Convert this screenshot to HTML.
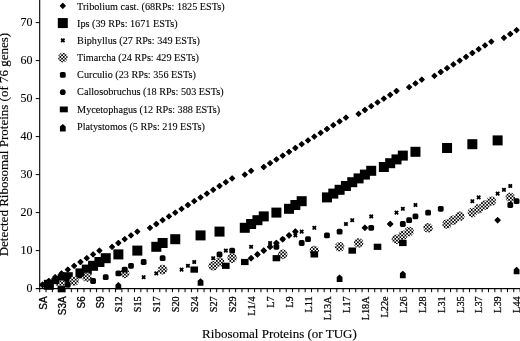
<!DOCTYPE html>
<html><head><meta charset="utf-8"><title>Ribosomal Proteins chart</title>
<style>
html,body{margin:0;padding:0;background:#fff;}
body{width:520px;height:341px;overflow:hidden;}
svg{display:block;}
text{font-family:"Liberation Serif","Times New Roman",serif;fill:#000;stroke:#000;stroke-width:0.1px;}
.tk{font-size:12px;}
.lg{font-size:10.2px;}
.xl{font-size:10.3px;stroke-width:0.25px;}
.xs{font-size:10px;stroke-width:0.3px;font-family:"Liberation Sans",Arial,sans-serif;}
.ti{font-size:13px;stroke-width:0.15px;}
</style></head>
<body>
<svg width="520" height="341" viewBox="0 0 520 341">
<defs>
<pattern id="chk" x="0" y="0" width="3.4" height="3.4" patternUnits="userSpaceOnUse">
<rect x="0" y="0" width="1.7" height="1.7" fill="#000"/><rect x="1.7" y="1.7" width="1.7" height="1.7" fill="#000"/>
</pattern>
</defs>
<rect width="520" height="341" fill="#fff"/>
<g fill="#000">
<rect x="39.15" y="0" width="1.1" height="289.2"/><rect x="39.15" y="288" width="480.85" height="1.2"/><rect x="35.7" y="250.1" width="4" height="1"/><rect x="35.7" y="212.1" width="4" height="1"/><rect x="35.7" y="174.1" width="4" height="1"/><rect x="35.7" y="136.1" width="4" height="1"/><rect x="35.7" y="98.1" width="4" height="1"/><rect x="35.7" y="60.1" width="4" height="1"/><rect x="35.7" y="22.1" width="4" height="1"/><rect x="35.7" y="288" width="4" height="1.2"/><rect x="39.2" y="288.6" width="1" height="3.6"/><rect x="45.52" y="288.6" width="1" height="3.6"/><rect x="51.84" y="288.6" width="1" height="3.6"/><rect x="58.16" y="288.6" width="1" height="3.6"/><rect x="64.48" y="288.6" width="1" height="3.6"/><rect x="70.81" y="288.6" width="1" height="3.6"/><rect x="77.13" y="288.6" width="1" height="3.6"/><rect x="83.45" y="288.6" width="1" height="3.6"/><rect x="89.77" y="288.6" width="1" height="3.6"/><rect x="96.09" y="288.6" width="1" height="3.6"/><rect x="102.41" y="288.6" width="1" height="3.6"/><rect x="108.73" y="288.6" width="1" height="3.6"/><rect x="115.05" y="288.6" width="1" height="3.6"/><rect x="121.37" y="288.6" width="1" height="3.6"/><rect x="127.69" y="288.6" width="1" height="3.6"/><rect x="134.01" y="288.6" width="1" height="3.6"/><rect x="140.34" y="288.6" width="1" height="3.6"/><rect x="146.66" y="288.6" width="1" height="3.6"/><rect x="152.98" y="288.6" width="1" height="3.6"/><rect x="159.3" y="288.6" width="1" height="3.6"/><rect x="165.62" y="288.6" width="1" height="3.6"/><rect x="171.94" y="288.6" width="1" height="3.6"/><rect x="178.26" y="288.6" width="1" height="3.6"/><rect x="184.58" y="288.6" width="1" height="3.6"/><rect x="190.9" y="288.6" width="1" height="3.6"/><rect x="197.23" y="288.6" width="1" height="3.6"/><rect x="203.55" y="288.6" width="1" height="3.6"/><rect x="209.87" y="288.6" width="1" height="3.6"/><rect x="216.19" y="288.6" width="1" height="3.6"/><rect x="222.51" y="288.6" width="1" height="3.6"/><rect x="228.83" y="288.6" width="1" height="3.6"/><rect x="235.15" y="288.6" width="1" height="3.6"/><rect x="241.47" y="288.6" width="1" height="3.6"/><rect x="247.79" y="288.6" width="1" height="3.6"/><rect x="254.11" y="288.6" width="1" height="3.6"/><rect x="260.44" y="288.6" width="1" height="3.6"/><rect x="266.76" y="288.6" width="1" height="3.6"/><rect x="273.08" y="288.6" width="1" height="3.6"/><rect x="279.4" y="288.6" width="1" height="3.6"/><rect x="285.72" y="288.6" width="1" height="3.6"/><rect x="292.04" y="288.6" width="1" height="3.6"/><rect x="298.36" y="288.6" width="1" height="3.6"/><rect x="304.68" y="288.6" width="1" height="3.6"/><rect x="311" y="288.6" width="1" height="3.6"/><rect x="317.32" y="288.6" width="1" height="3.6"/><rect x="323.64" y="288.6" width="1" height="3.6"/><rect x="329.97" y="288.6" width="1" height="3.6"/><rect x="336.29" y="288.6" width="1" height="3.6"/><rect x="342.61" y="288.6" width="1" height="3.6"/><rect x="348.93" y="288.6" width="1" height="3.6"/><rect x="355.25" y="288.6" width="1" height="3.6"/><rect x="361.57" y="288.6" width="1" height="3.6"/><rect x="367.89" y="288.6" width="1" height="3.6"/><rect x="374.21" y="288.6" width="1" height="3.6"/><rect x="380.53" y="288.6" width="1" height="3.6"/><rect x="386.85" y="288.6" width="1" height="3.6"/><rect x="393.18" y="288.6" width="1" height="3.6"/><rect x="399.5" y="288.6" width="1" height="3.6"/><rect x="405.82" y="288.6" width="1" height="3.6"/><rect x="412.14" y="288.6" width="1" height="3.6"/><rect x="418.46" y="288.6" width="1" height="3.6"/><rect x="424.78" y="288.6" width="1" height="3.6"/><rect x="431.1" y="288.6" width="1" height="3.6"/><rect x="437.42" y="288.6" width="1" height="3.6"/><rect x="443.74" y="288.6" width="1" height="3.6"/><rect x="450.06" y="288.6" width="1" height="3.6"/><rect x="456.39" y="288.6" width="1" height="3.6"/><rect x="462.71" y="288.6" width="1" height="3.6"/><rect x="469.03" y="288.6" width="1" height="3.6"/><rect x="475.35" y="288.6" width="1" height="3.6"/><rect x="481.67" y="288.6" width="1" height="3.6"/><rect x="487.99" y="288.6" width="1" height="3.6"/><rect x="494.31" y="288.6" width="1" height="3.6"/><rect x="500.63" y="288.6" width="1" height="3.6"/><rect x="506.95" y="288.6" width="1" height="3.6"/><rect x="513.27" y="288.6" width="1" height="3.6"/><rect x="519.6" y="288.6" width="1" height="3.6"/>
</g>
<g fill="#000">
<g id="s-trib"><path d="M42.52 282.3L45.02 284.8L42.52 287.3L40.02 284.8Z" stroke="#000" stroke-width="1.1" stroke-linejoin="round"/><path d="M48.84 278.5L51.34 281L48.84 283.5L46.34 281Z" stroke="#000" stroke-width="1.1" stroke-linejoin="round"/><path d="M55.16 274.7L57.66 277.2L55.16 279.7L52.66 277.2Z" stroke="#000" stroke-width="1.1" stroke-linejoin="round"/><path d="M61.48 270.9L63.98 273.4L61.48 275.9L58.98 273.4Z" stroke="#000" stroke-width="1.1" stroke-linejoin="round"/><path d="M67.81 267.1L70.31 269.6L67.81 272.1L65.31 269.6Z" stroke="#000" stroke-width="1.1" stroke-linejoin="round"/><path d="M74.13 263.3L76.63 265.8L74.13 268.3L71.63 265.8Z" stroke="#000" stroke-width="1.1" stroke-linejoin="round"/><path d="M80.45 259.5L82.95 262L80.45 264.5L77.95 262Z" stroke="#000" stroke-width="1.1" stroke-linejoin="round"/><path d="M86.77 255.7L89.27 258.2L86.77 260.7L84.27 258.2Z" stroke="#000" stroke-width="1.1" stroke-linejoin="round"/><path d="M93.09 251.9L95.59 254.4L93.09 256.9L90.59 254.4Z" stroke="#000" stroke-width="1.1" stroke-linejoin="round"/><path d="M99.41 248.1L101.91 250.6L99.41 253.1L96.91 250.6Z" stroke="#000" stroke-width="1.1" stroke-linejoin="round"/><path d="M112.05 244.3L114.55 246.8L112.05 249.3L109.55 246.8Z" stroke="#000" stroke-width="1.1" stroke-linejoin="round"/><path d="M118.37 240.5L120.87 243L118.37 245.5L115.87 243Z" stroke="#000" stroke-width="1.1" stroke-linejoin="round"/><path d="M124.69 236.7L127.19 239.2L124.69 241.7L122.19 239.2Z" stroke="#000" stroke-width="1.1" stroke-linejoin="round"/><path d="M131.01 232.9L133.51 235.4L131.01 237.9L128.51 235.4Z" stroke="#000" stroke-width="1.1" stroke-linejoin="round"/><path d="M137.34 229.1L139.84 231.6L137.34 234.1L134.84 231.6Z" stroke="#000" stroke-width="1.1" stroke-linejoin="round"/><path d="M149.98 225.3L152.48 227.8L149.98 230.3L147.48 227.8Z" stroke="#000" stroke-width="1.1" stroke-linejoin="round"/><path d="M156.3 221.5L158.8 224L156.3 226.5L153.8 224Z" stroke="#000" stroke-width="1.1" stroke-linejoin="round"/><path d="M162.62 217.7L165.12 220.2L162.62 222.7L160.12 220.2Z" stroke="#000" stroke-width="1.1" stroke-linejoin="round"/><path d="M168.94 213.9L171.44 216.4L168.94 218.9L166.44 216.4Z" stroke="#000" stroke-width="1.1" stroke-linejoin="round"/><path d="M175.26 210.1L177.76 212.6L175.26 215.1L172.76 212.6Z" stroke="#000" stroke-width="1.1" stroke-linejoin="round"/><path d="M181.58 206.3L184.08 208.8L181.58 211.3L179.08 208.8Z" stroke="#000" stroke-width="1.1" stroke-linejoin="round"/><path d="M187.9 202.5L190.4 205L187.9 207.5L185.4 205Z" stroke="#000" stroke-width="1.1" stroke-linejoin="round"/><path d="M194.23 198.7L196.73 201.2L194.23 203.7L191.73 201.2Z" stroke="#000" stroke-width="1.1" stroke-linejoin="round"/><path d="M200.55 194.9L203.05 197.4L200.55 199.9L198.05 197.4Z" stroke="#000" stroke-width="1.1" stroke-linejoin="round"/><path d="M206.87 191.1L209.37 193.6L206.87 196.1L204.37 193.6Z" stroke="#000" stroke-width="1.1" stroke-linejoin="round"/><path d="M213.19 187.3L215.69 189.8L213.19 192.3L210.69 189.8Z" stroke="#000" stroke-width="1.1" stroke-linejoin="round"/><path d="M219.51 183.5L222.01 186L219.51 188.5L217.01 186Z" stroke="#000" stroke-width="1.1" stroke-linejoin="round"/><path d="M225.83 179.7L228.33 182.2L225.83 184.7L223.33 182.2Z" stroke="#000" stroke-width="1.1" stroke-linejoin="round"/><path d="M232.15 175.9L234.65 178.4L232.15 180.9L229.65 178.4Z" stroke="#000" stroke-width="1.1" stroke-linejoin="round"/><path d="M244.79 172.1L247.29 174.6L244.79 177.1L242.29 174.6Z" stroke="#000" stroke-width="1.1" stroke-linejoin="round"/><path d="M251.11 168.3L253.61 170.8L251.11 173.3L248.61 170.8Z" stroke="#000" stroke-width="1.1" stroke-linejoin="round"/><path d="M263.76 164.5L266.26 167L263.76 169.5L261.26 167Z" stroke="#000" stroke-width="1.1" stroke-linejoin="round"/><path d="M270.08 160.7L272.58 163.2L270.08 165.7L267.58 163.2Z" stroke="#000" stroke-width="1.1" stroke-linejoin="round"/><path d="M276.4 156.9L278.9 159.4L276.4 161.9L273.9 159.4Z" stroke="#000" stroke-width="1.1" stroke-linejoin="round"/><path d="M282.72 153.1L285.22 155.6L282.72 158.1L280.22 155.6Z" stroke="#000" stroke-width="1.1" stroke-linejoin="round"/><path d="M289.04 149.3L291.54 151.8L289.04 154.3L286.54 151.8Z" stroke="#000" stroke-width="1.1" stroke-linejoin="round"/><path d="M295.36 145.5L297.86 148L295.36 150.5L292.86 148Z" stroke="#000" stroke-width="1.1" stroke-linejoin="round"/><path d="M301.68 141.7L304.18 144.2L301.68 146.7L299.18 144.2Z" stroke="#000" stroke-width="1.1" stroke-linejoin="round"/><path d="M308 137.9L310.5 140.4L308 142.9L305.5 140.4Z" stroke="#000" stroke-width="1.1" stroke-linejoin="round"/><path d="M314.32 134.1L316.82 136.6L314.32 139.1L311.82 136.6Z" stroke="#000" stroke-width="1.1" stroke-linejoin="round"/><path d="M320.64 130.3L323.14 132.8L320.64 135.3L318.14 132.8Z" stroke="#000" stroke-width="1.1" stroke-linejoin="round"/><path d="M326.97 126.5L329.47 129L326.97 131.5L324.47 129Z" stroke="#000" stroke-width="1.1" stroke-linejoin="round"/><path d="M333.29 122.7L335.79 125.2L333.29 127.7L330.79 125.2Z" stroke="#000" stroke-width="1.1" stroke-linejoin="round"/><path d="M339.61 118.9L342.11 121.4L339.61 123.9L337.11 121.4Z" stroke="#000" stroke-width="1.1" stroke-linejoin="round"/><path d="M345.93 115.1L348.43 117.6L345.93 120.1L343.43 117.6Z" stroke="#000" stroke-width="1.1" stroke-linejoin="round"/><path d="M358.57 111.3L361.07 113.8L358.57 116.3L356.07 113.8Z" stroke="#000" stroke-width="1.1" stroke-linejoin="round"/><path d="M364.89 107.5L367.39 110L364.89 112.5L362.39 110Z" stroke="#000" stroke-width="1.1" stroke-linejoin="round"/><path d="M371.21 103.7L373.71 106.2L371.21 108.7L368.71 106.2Z" stroke="#000" stroke-width="1.1" stroke-linejoin="round"/><path d="M377.53 99.9L380.03 102.4L377.53 104.9L375.03 102.4Z" stroke="#000" stroke-width="1.1" stroke-linejoin="round"/><path d="M383.85 96.1L386.35 98.6L383.85 101.1L381.35 98.6Z" stroke="#000" stroke-width="1.1" stroke-linejoin="round"/><path d="M390.18 92.3L392.68 94.8L390.18 97.3L387.68 94.8Z" stroke="#000" stroke-width="1.1" stroke-linejoin="round"/><path d="M396.5 88.5L399 91L396.5 93.5L394 91Z" stroke="#000" stroke-width="1.1" stroke-linejoin="round"/><path d="M409.14 84.7L411.64 87.2L409.14 89.7L406.64 87.2Z" stroke="#000" stroke-width="1.1" stroke-linejoin="round"/><path d="M415.46 80.9L417.96 83.4L415.46 85.9L412.96 83.4Z" stroke="#000" stroke-width="1.1" stroke-linejoin="round"/><path d="M421.78 77.1L424.28 79.6L421.78 82.1L419.28 79.6Z" stroke="#000" stroke-width="1.1" stroke-linejoin="round"/><path d="M434.42 73.3L436.92 75.8L434.42 78.3L431.92 75.8Z" stroke="#000" stroke-width="1.1" stroke-linejoin="round"/><path d="M440.74 69.5L443.24 72L440.74 74.5L438.24 72Z" stroke="#000" stroke-width="1.1" stroke-linejoin="round"/><path d="M447.06 65.7L449.56 68.2L447.06 70.7L444.56 68.2Z" stroke="#000" stroke-width="1.1" stroke-linejoin="round"/><path d="M453.39 61.9L455.89 64.4L453.39 66.9L450.89 64.4Z" stroke="#000" stroke-width="1.1" stroke-linejoin="round"/><path d="M459.71 58.1L462.21 60.6L459.71 63.1L457.21 60.6Z" stroke="#000" stroke-width="1.1" stroke-linejoin="round"/><path d="M466.03 54.3L468.53 56.8L466.03 59.3L463.53 56.8Z" stroke="#000" stroke-width="1.1" stroke-linejoin="round"/><path d="M472.35 50.5L474.85 53L472.35 55.5L469.85 53Z" stroke="#000" stroke-width="1.1" stroke-linejoin="round"/><path d="M478.67 46.7L481.17 49.2L478.67 51.7L476.17 49.2Z" stroke="#000" stroke-width="1.1" stroke-linejoin="round"/><path d="M484.99 42.9L487.49 45.4L484.99 47.9L482.49 45.4Z" stroke="#000" stroke-width="1.1" stroke-linejoin="round"/><path d="M491.31 39.1L493.81 41.6L491.31 44.1L488.81 41.6Z" stroke="#000" stroke-width="1.1" stroke-linejoin="round"/><path d="M503.95 35.3L506.45 37.8L503.95 40.3L501.45 37.8Z" stroke="#000" stroke-width="1.1" stroke-linejoin="round"/><path d="M510.27 31.5L512.77 34L510.27 36.5L507.77 34Z" stroke="#000" stroke-width="1.1" stroke-linejoin="round"/><path d="M516.6 27.7L519.1 30.2L516.6 32.7L514.1 30.2Z" stroke="#000" stroke-width="1.1" stroke-linejoin="round"/></g>
<g id="s-ips"><rect x="43.84" y="279.8" width="10" height="10"/><rect x="56.48" y="276" width="10" height="10"/><rect x="62.81" y="272.2" width="10" height="10"/><rect x="75.45" y="268.4" width="10" height="10"/><rect x="81.77" y="264.6" width="10" height="10"/><rect x="88.09" y="260.8" width="10" height="10"/><rect x="94.41" y="257" width="10" height="10"/><rect x="100.73" y="253.2" width="10" height="10"/><rect x="113.37" y="249.4" width="10" height="10"/><rect x="132.34" y="245.6" width="10" height="10"/><rect x="151.3" y="241.8" width="10" height="10"/><rect x="157.62" y="238" width="10" height="10"/><rect x="170.26" y="234.2" width="10" height="10"/><rect x="195.55" y="230.4" width="10" height="10"/><rect x="214.51" y="226.6" width="10" height="10"/><rect x="239.79" y="222.8" width="10" height="10"/><rect x="246.11" y="219" width="10" height="10"/><rect x="252.44" y="215.2" width="10" height="10"/><rect x="258.76" y="211.4" width="10" height="10"/><rect x="271.4" y="207.6" width="10" height="10"/><rect x="284.04" y="203.8" width="10" height="10"/><rect x="290.36" y="200" width="10" height="10"/><rect x="296.68" y="196.2" width="10" height="10"/><rect x="321.97" y="192.4" width="10" height="10"/><rect x="328.29" y="188.6" width="10" height="10"/><rect x="334.61" y="184.8" width="10" height="10"/><rect x="340.93" y="181" width="10" height="10"/><rect x="347.25" y="177.2" width="10" height="10"/><rect x="353.57" y="173.4" width="10" height="10"/><rect x="359.89" y="169.6" width="10" height="10"/><rect x="366.21" y="165.8" width="10" height="10"/><rect x="378.85" y="162" width="10" height="10"/><rect x="385.18" y="158.2" width="10" height="10"/><rect x="391.5" y="154.4" width="10" height="10"/><rect x="397.82" y="150.6" width="10" height="10"/><rect x="410.46" y="146.8" width="10" height="10"/><rect x="442.06" y="143" width="10" height="10"/><rect x="467.35" y="139.2" width="10" height="10"/><rect x="492.63" y="135.4" width="10" height="10"/></g>
<g id="s-biph"><path d="M59.78 283.1L63.18 286.5M59.78 286.5L63.18 283.1" stroke="#000" stroke-width="1.7" fill="none"/><rect x="60.08" y="283.4" width="2.8" height="2.8"/><path d="M66.11 279.3L69.51 282.7M66.11 282.7L69.51 279.3" stroke="#000" stroke-width="1.7" fill="none"/><rect x="66.41" y="279.6" width="2.8" height="2.8"/><path d="M141.96 275.5L145.36 278.9M141.96 278.9L145.36 275.5" stroke="#000" stroke-width="1.7" fill="none"/><rect x="142.26" y="275.8" width="2.8" height="2.8"/><path d="M154.6 271.7L158 275.1M154.6 275.1L158 271.7" stroke="#000" stroke-width="1.7" fill="none"/><rect x="154.9" y="272" width="2.8" height="2.8"/><path d="M179.88 267.9L183.28 271.3M179.88 271.3L183.28 267.9" stroke="#000" stroke-width="1.7" fill="none"/><rect x="180.18" y="268.2" width="2.8" height="2.8"/><path d="M186.2 264.1L189.6 267.5M186.2 267.5L189.6 264.1" stroke="#000" stroke-width="1.7" fill="none"/><rect x="186.5" y="264.4" width="2.8" height="2.8"/><path d="M192.53 260.3L195.93 263.7M192.53 263.7L195.93 260.3" stroke="#000" stroke-width="1.7" fill="none"/><rect x="192.83" y="260.6" width="2.8" height="2.8"/><path d="M211.49 256.5L214.89 259.9M211.49 259.9L214.89 256.5" stroke="#000" stroke-width="1.7" fill="none"/><rect x="211.79" y="256.8" width="2.8" height="2.8"/><path d="M217.81 252.7L221.21 256.1M217.81 256.1L221.21 252.7" stroke="#000" stroke-width="1.7" fill="none"/><rect x="218.11" y="253" width="2.8" height="2.8"/><path d="M224.13 248.9L227.53 252.3M224.13 252.3L227.53 248.9" stroke="#000" stroke-width="1.7" fill="none"/><rect x="224.43" y="249.2" width="2.8" height="2.8"/><path d="M249.41 245.1L252.81 248.5M249.41 248.5L252.81 245.1" stroke="#000" stroke-width="1.7" fill="none"/><rect x="249.71" y="245.4" width="2.8" height="2.8"/><path d="M268.38 241.3L271.78 244.7M268.38 244.7L271.78 241.3" stroke="#000" stroke-width="1.7" fill="none"/><rect x="268.68" y="241.6" width="2.8" height="2.8"/><path d="M281.02 237.5L284.42 240.9M281.02 240.9L284.42 237.5" stroke="#000" stroke-width="1.7" fill="none"/><rect x="281.32" y="237.8" width="2.8" height="2.8"/><path d="M293.66 233.7L297.06 237.1M293.66 237.1L297.06 233.7" stroke="#000" stroke-width="1.7" fill="none"/><rect x="293.96" y="234" width="2.8" height="2.8"/><path d="M299.98 229.9L303.38 233.3M299.98 233.3L303.38 229.9" stroke="#000" stroke-width="1.7" fill="none"/><rect x="300.28" y="230.2" width="2.8" height="2.8"/><path d="M312.62 226.1L316.02 229.5M312.62 229.5L316.02 226.1" stroke="#000" stroke-width="1.7" fill="none"/><rect x="312.92" y="226.4" width="2.8" height="2.8"/><path d="M344.23 222.3L347.63 225.7M344.23 225.7L347.63 222.3" stroke="#000" stroke-width="1.7" fill="none"/><rect x="344.53" y="222.6" width="2.8" height="2.8"/><path d="M350.55 218.5L353.95 221.9M350.55 221.9L353.95 218.5" stroke="#000" stroke-width="1.7" fill="none"/><rect x="350.85" y="218.8" width="2.8" height="2.8"/><path d="M369.51 214.7L372.91 218.1M369.51 218.1L372.91 214.7" stroke="#000" stroke-width="1.7" fill="none"/><rect x="369.81" y="215" width="2.8" height="2.8"/><path d="M394.8 210.9L398.2 214.3M394.8 214.3L398.2 210.9" stroke="#000" stroke-width="1.7" fill="none"/><rect x="395.1" y="211.2" width="2.8" height="2.8"/><path d="M401.12 207.1L404.52 210.5M401.12 210.5L404.52 207.1" stroke="#000" stroke-width="1.7" fill="none"/><rect x="401.42" y="207.4" width="2.8" height="2.8"/><path d="M413.76 203.3L417.16 206.7M413.76 206.7L417.16 203.3" stroke="#000" stroke-width="1.7" fill="none"/><rect x="414.06" y="203.6" width="2.8" height="2.8"/><path d="M470.65 199.5L474.05 202.9M470.65 202.9L474.05 199.5" stroke="#000" stroke-width="1.7" fill="none"/><rect x="470.95" y="199.8" width="2.8" height="2.8"/><path d="M476.97 195.7L480.37 199.1M476.97 199.1L480.37 195.7" stroke="#000" stroke-width="1.7" fill="none"/><rect x="477.27" y="196" width="2.8" height="2.8"/><path d="M495.93 191.9L499.33 195.3M495.93 195.3L499.33 191.9" stroke="#000" stroke-width="1.7" fill="none"/><rect x="496.23" y="192.2" width="2.8" height="2.8"/><path d="M502.25 188.1L505.65 191.5M502.25 191.5L505.65 188.1" stroke="#000" stroke-width="1.7" fill="none"/><rect x="502.55" y="188.4" width="2.8" height="2.8"/><path d="M508.57 184.3L511.97 187.7M508.57 187.7L511.97 184.3" stroke="#000" stroke-width="1.7" fill="none"/><rect x="508.88" y="184.6" width="2.8" height="2.8"/></g>
<g id="s-tim"><circle cx="61.48" cy="284.8" r="4.8" fill="#fff"/><circle cx="61.48" cy="284.8" r="4.8" fill="url(#chk)"/><circle cx="74.13" cy="281" r="4.8" fill="#fff"/><circle cx="74.13" cy="281" r="4.8" fill="url(#chk)"/><circle cx="86.77" cy="277.2" r="4.8" fill="#fff"/><circle cx="86.77" cy="277.2" r="4.8" fill="url(#chk)"/><circle cx="124.69" cy="273.4" r="4.8" fill="#fff"/><circle cx="124.69" cy="273.4" r="4.8" fill="url(#chk)"/><circle cx="162.62" cy="269.6" r="4.8" fill="#fff"/><circle cx="162.62" cy="269.6" r="4.8" fill="url(#chk)"/><circle cx="213.19" cy="265.8" r="4.8" fill="#fff"/><circle cx="213.19" cy="265.8" r="4.8" fill="url(#chk)"/><circle cx="219.51" cy="262" r="4.8" fill="#fff"/><circle cx="219.51" cy="262" r="4.8" fill="url(#chk)"/><circle cx="232.15" cy="258.2" r="4.8" fill="#fff"/><circle cx="232.15" cy="258.2" r="4.8" fill="url(#chk)"/><circle cx="282.72" cy="254.4" r="4.8" fill="#fff"/><circle cx="282.72" cy="254.4" r="4.8" fill="url(#chk)"/><circle cx="314.32" cy="250.6" r="4.8" fill="#fff"/><circle cx="314.32" cy="250.6" r="4.8" fill="url(#chk)"/><circle cx="339.61" cy="246.8" r="4.8" fill="#fff"/><circle cx="339.61" cy="246.8" r="4.8" fill="url(#chk)"/><circle cx="358.57" cy="243" r="4.8" fill="#fff"/><circle cx="358.57" cy="243" r="4.8" fill="url(#chk)"/><circle cx="396.5" cy="239.2" r="4.8" fill="#fff"/><circle cx="396.5" cy="239.2" r="4.8" fill="url(#chk)"/><circle cx="402.82" cy="235.4" r="4.8" fill="#fff"/><circle cx="402.82" cy="235.4" r="4.8" fill="url(#chk)"/><circle cx="409.14" cy="231.6" r="4.8" fill="#fff"/><circle cx="409.14" cy="231.6" r="4.8" fill="url(#chk)"/><circle cx="428.1" cy="227.8" r="4.8" fill="#fff"/><circle cx="428.1" cy="227.8" r="4.8" fill="url(#chk)"/><circle cx="447.06" cy="224" r="4.8" fill="#fff"/><circle cx="447.06" cy="224" r="4.8" fill="url(#chk)"/><circle cx="453.39" cy="220.2" r="4.8" fill="#fff"/><circle cx="453.39" cy="220.2" r="4.8" fill="url(#chk)"/><circle cx="459.71" cy="216.4" r="4.8" fill="#fff"/><circle cx="459.71" cy="216.4" r="4.8" fill="url(#chk)"/><circle cx="472.35" cy="212.6" r="4.8" fill="#fff"/><circle cx="472.35" cy="212.6" r="4.8" fill="url(#chk)"/><circle cx="478.67" cy="208.8" r="4.8" fill="#fff"/><circle cx="478.67" cy="208.8" r="4.8" fill="url(#chk)"/><circle cx="484.99" cy="205" r="4.8" fill="#fff"/><circle cx="484.99" cy="205" r="4.8" fill="url(#chk)"/><circle cx="491.31" cy="201.2" r="4.8" fill="#fff"/><circle cx="491.31" cy="201.2" r="4.8" fill="url(#chk)"/><circle cx="510.27" cy="197.4" r="4.8" fill="#fff"/><circle cx="510.27" cy="197.4" r="4.8" fill="url(#chk)"/></g>
<g id="s-curc"><rect x="64.91" y="281.9" width="5.8" height="5.8" rx="1.6"/><rect x="90.19" y="278.1" width="5.8" height="5.8" rx="1.6"/><rect x="102.83" y="274.3" width="5.8" height="5.8" rx="1.6"/><rect x="115.47" y="270.5" width="5.8" height="5.8" rx="1.6"/><rect x="121.79" y="266.7" width="5.8" height="5.8" rx="1.6"/><rect x="128.11" y="262.9" width="5.8" height="5.8" rx="1.6"/><rect x="140.76" y="259.1" width="5.8" height="5.8" rx="1.6"/><rect x="159.72" y="255.3" width="5.8" height="5.8" rx="1.6"/><rect x="216.61" y="251.5" width="5.8" height="5.8" rx="1.6"/><rect x="229.25" y="247.7" width="5.8" height="5.8" rx="1.6"/><rect x="273.5" y="243.9" width="5.8" height="5.8" rx="1.6"/><rect x="298.78" y="240.1" width="5.8" height="5.8" rx="1.6"/><rect x="305.1" y="236.3" width="5.8" height="5.8" rx="1.6"/><rect x="324.07" y="232.5" width="5.8" height="5.8" rx="1.6"/><rect x="336.71" y="228.7" width="5.8" height="5.8" rx="1.6"/><rect x="368.31" y="224.9" width="5.8" height="5.8" rx="1.6"/><rect x="399.92" y="221.1" width="5.8" height="5.8" rx="1.6"/><rect x="406.24" y="217.3" width="5.8" height="5.8" rx="1.6"/><rect x="412.56" y="213.5" width="5.8" height="5.8" rx="1.6"/><rect x="425.2" y="209.7" width="5.8" height="5.8" rx="1.6"/><rect x="437.84" y="205.9" width="5.8" height="5.8" rx="1.6"/><rect x="507.38" y="202.1" width="5.8" height="5.8" rx="1.6"/><rect x="513.7" y="198.3" width="5.8" height="5.8" rx="1.6"/></g>
<g id="s-callo"><path d="M42.52 282.15L45.17 284.8L42.52 287.45L39.87 284.8Z" stroke="#000" stroke-width="1.1" stroke-linejoin="round"/><path d="M55.16 278.35L57.81 281L55.16 283.65L52.51 281Z" stroke="#000" stroke-width="1.1" stroke-linejoin="round"/><path d="M67.81 274.55L70.46 277.2L67.81 279.85L65.16 277.2Z" stroke="#000" stroke-width="1.1" stroke-linejoin="round"/><path d="M80.45 270.75L83.1 273.4L80.45 276.05L77.8 273.4Z" stroke="#000" stroke-width="1.1" stroke-linejoin="round"/><path d="M86.77 266.95L89.42 269.6L86.77 272.25L84.12 269.6Z" stroke="#000" stroke-width="1.1" stroke-linejoin="round"/><path d="M93.09 263.15L95.74 265.8L93.09 268.45L90.44 265.8Z" stroke="#000" stroke-width="1.1" stroke-linejoin="round"/><path d="M99.41 259.35L102.06 262L99.41 264.65L96.76 262Z" stroke="#000" stroke-width="1.1" stroke-linejoin="round"/><path d="M251.11 255.55L253.76 258.2L251.11 260.85L248.46 258.2Z" stroke="#000" stroke-width="1.1" stroke-linejoin="round"/><path d="M257.44 251.75L260.08 254.4L257.44 257.05L254.78 254.4Z" stroke="#000" stroke-width="1.1" stroke-linejoin="round"/><path d="M263.76 247.95L266.41 250.6L263.76 253.25L261.11 250.6Z" stroke="#000" stroke-width="1.1" stroke-linejoin="round"/><path d="M270.08 244.15L272.73 246.8L270.08 249.45L267.43 246.8Z" stroke="#000" stroke-width="1.1" stroke-linejoin="round"/><path d="M276.4 240.35L279.05 243L276.4 245.65L273.75 243Z" stroke="#000" stroke-width="1.1" stroke-linejoin="round"/><path d="M282.72 236.55L285.37 239.2L282.72 241.85L280.07 239.2Z" stroke="#000" stroke-width="1.1" stroke-linejoin="round"/><path d="M289.04 232.75L291.69 235.4L289.04 238.05L286.39 235.4Z" stroke="#000" stroke-width="1.1" stroke-linejoin="round"/><path d="M295.36 228.95L298.01 231.6L295.36 234.25L292.71 231.6Z" stroke="#000" stroke-width="1.1" stroke-linejoin="round"/><path d="M364.89 225.15L367.54 227.8L364.89 230.45L362.24 227.8Z" stroke="#000" stroke-width="1.1" stroke-linejoin="round"/><path d="M390.18 221.35L392.83 224L390.18 226.65L387.53 224Z" stroke="#000" stroke-width="1.1" stroke-linejoin="round"/><path d="M497.63 217.55L500.28 220.2L497.63 222.85L494.98 220.2Z" stroke="#000" stroke-width="1.1" stroke-linejoin="round"/></g>
<g id="s-myc"><rect x="57.68" y="286.1" width="7.6" height="6.2"/><rect x="45.04" y="281.7" width="7.6" height="6.2"/><rect x="51.36" y="277.9" width="7.6" height="6.2"/><rect x="57.69" y="274.1" width="7.6" height="6.2"/><rect x="76.65" y="270.3" width="7.6" height="6.2"/><rect x="190.43" y="266.5" width="7.6" height="6.2"/><rect x="222.03" y="262.7" width="7.6" height="6.2"/><rect x="240.99" y="258.9" width="7.6" height="6.2"/><rect x="272.6" y="255.1" width="7.6" height="6.2"/><rect x="310.52" y="251.3" width="7.6" height="6.2"/><rect x="348.45" y="247.5" width="7.6" height="6.2"/><rect x="373.73" y="243.7" width="7.6" height="6.2"/><rect x="399.02" y="239.9" width="7.6" height="6.2"/></g>
<g id="s-plat"><path d="M118.37 282.05L121.27 284.65L121.27 289.55L115.47 289.55L115.47 284.65Z"/><path d="M200.55 278.25L203.45 280.85L203.45 285.75L197.65 285.75L197.65 280.85Z"/><path d="M339.61 274.45L342.51 277.05L342.51 281.95L336.71 281.95L336.71 277.05Z"/><path d="M402.82 270.65L405.72 273.25L405.72 278.15L399.92 278.15L399.92 273.25Z"/><path d="M516.6 266.85L519.5 269.45L519.5 274.35L513.7 274.35L513.7 269.45Z"/></g>
</g>
<g fill="#000">
<path d="M62.8 3.3L65.3 5.8L62.8 8.3L60.3 5.8Z" stroke="#000" stroke-width="1.1" stroke-linejoin="round"/><rect x="57.8" y="18.07" width="10" height="10"/><path d="M61.1 38.64L64.5 42.04M61.1 42.04L64.5 38.64" stroke="#000" stroke-width="1.7" fill="none"/><rect x="61.4" y="38.94" width="2.8" height="2.8"/><circle cx="62.8" cy="57.61" r="4.8" fill="#fff"/><circle cx="62.8" cy="57.61" r="4.8" fill="url(#chk)"/><rect x="59.9" y="71.98" width="5.8" height="5.8" rx="1.6"/><circle cx="62.8" cy="92.15" r="2.9"/><rect x="59.8" y="106.52" width="8" height="5.8"/><path d="M62.8 123.94L65.7 126.54L65.7 131.44L59.9 131.44L59.9 126.54Z"/><text x="77.1" y="9.7" class="lg">Tribolium cast. (68RPs: 1825 ESTs)</text><text x="77.1" y="26.85" class="lg">Ips (39 RPs: 1671 ESTs)</text><text x="77.1" y="44" class="lg">Biphyllus (27 RPs: 349 ESTs)</text><text x="77.1" y="61.15" class="lg">Timarcha (24 RPs: 429 ESTs)</text><text x="77.1" y="78.3" class="lg">Curculio (23 RPs: 356 ESTs)</text><text x="77.1" y="95.45" class="lg">Callosobruchus (18 RPs: 503 ESTs)</text><text x="77.1" y="112.6" class="lg">Mycetophagus (12 RPs: 388 ESTs)</text><text x="77.1" y="129.75" class="lg">Platystomos (5 RPs: 219 ESTs)</text>
</g>
<text x="32.5" y="292" text-anchor="end" class="tk">0</text><text x="32.5" y="254" text-anchor="end" class="tk">10</text><text x="32.5" y="216" text-anchor="end" class="tk">20</text><text x="32.5" y="178" text-anchor="end" class="tk">30</text><text x="32.5" y="140" text-anchor="end" class="tk">40</text><text x="32.5" y="102" text-anchor="end" class="tk">50</text><text x="32.5" y="64" text-anchor="end" class="tk">60</text><text x="32.5" y="26" text-anchor="end" class="tk">70</text>
<text transform="translate(46.92 296.3) rotate(-90)" text-anchor="end" class="xs">SA</text><text transform="translate(65.88 296.3) rotate(-90)" text-anchor="end" class="xs">S3A</text><text transform="translate(84.85 296.3) rotate(-90)" text-anchor="end" class="xs">S6</text><text transform="translate(103.81 296.3) rotate(-90)" text-anchor="end" class="xs">S9</text><text transform="translate(122.17 296.3) rotate(-90)" text-anchor="end" class="xl">S12</text><text transform="translate(141.14 296.3) rotate(-90)" text-anchor="end" class="xl">S15</text><text transform="translate(160.1 296.3) rotate(-90)" text-anchor="end" class="xl">S17</text><text transform="translate(179.06 296.3) rotate(-90)" text-anchor="end" class="xl">S20</text><text transform="translate(198.03 296.3) rotate(-90)" text-anchor="end" class="xl">S24</text><text transform="translate(216.99 296.3) rotate(-90)" text-anchor="end" class="xl">S27</text><text transform="translate(235.95 296.3) rotate(-90)" text-anchor="end" class="xl">S29</text><text transform="translate(254.91 296.3) rotate(-90)" text-anchor="end" class="xl">L1/4</text><text transform="translate(273.88 296.3) rotate(-90)" text-anchor="end" class="xl">L7</text><text transform="translate(292.84 296.3) rotate(-90)" text-anchor="end" class="xl">L9</text><text transform="translate(311.8 296.3) rotate(-90)" text-anchor="end" class="xl">L11</text><text transform="translate(330.77 296.3) rotate(-90)" text-anchor="end" class="xl">L13A</text><text transform="translate(349.73 296.3) rotate(-90)" text-anchor="end" class="xl">L17</text><text transform="translate(368.69 296.3) rotate(-90)" text-anchor="end" class="xl">L18A</text><text transform="translate(387.65 296.3) rotate(-90)" text-anchor="end" class="xl">L22e</text><text transform="translate(406.62 296.3) rotate(-90)" text-anchor="end" class="xl">L26</text><text transform="translate(425.58 296.3) rotate(-90)" text-anchor="end" class="xl">L28</text><text transform="translate(444.54 296.3) rotate(-90)" text-anchor="end" class="xl">L31</text><text transform="translate(463.51 296.3) rotate(-90)" text-anchor="end" class="xl">L35</text><text transform="translate(482.47 296.3) rotate(-90)" text-anchor="end" class="xl">L37</text><text transform="translate(501.43 296.3) rotate(-90)" text-anchor="end" class="xl">L39</text><text transform="translate(520.4 296.3) rotate(-90)" text-anchor="end" class="xl">L44</text>
<text transform="translate(7.9 256.3) rotate(-90)" class="ti">Detected Ribosomal Proteins (of 76 genes)</text>
<text x="202.1" y="337.5" class="ti">Ribosomal Proteins (or TUG)</text>
</svg>
</body></html>
